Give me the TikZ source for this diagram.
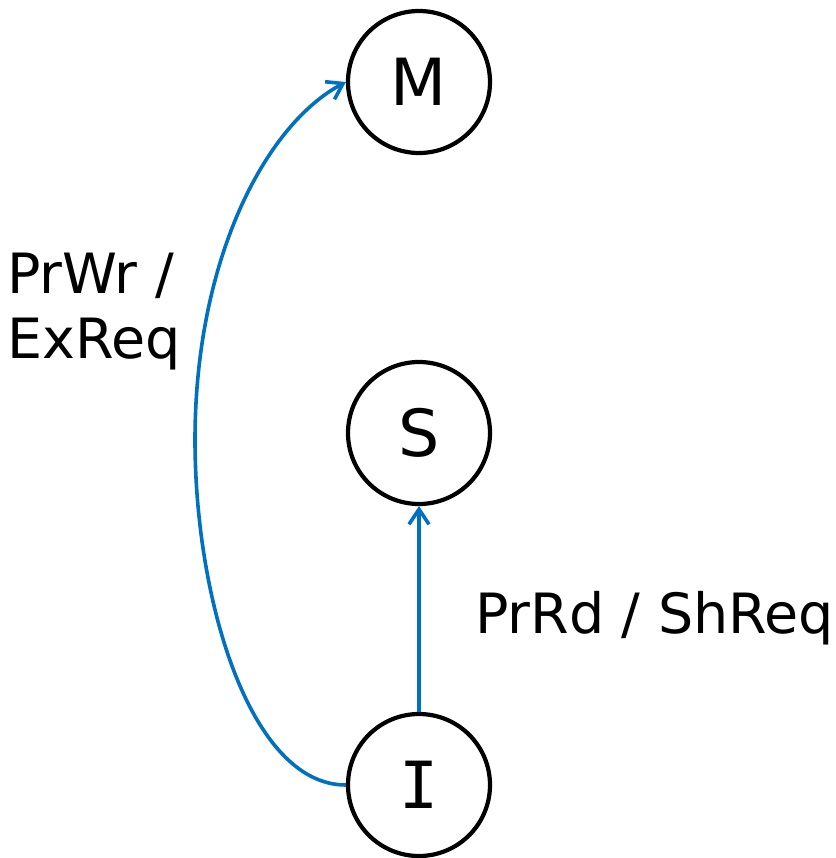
\documentclass[tikz,border=0pt]{standalone}
\usepackage{fontspec}
\setmainfont{DejaVu Sans}
\newfontfamily\serifI{DejaVu Sans Mono}
\usetikzlibrary{arrows.meta}
\definecolor{arrowblue}{RGB}{0,112,192}
\begin{document}
\begin{tikzpicture}[x=1pt,y=-1pt,
  state/.style={circle,draw=black,line width=4.2pt,minimum size=142pt,inner sep=0pt,
    font=\fontsize{65}{78}\selectfont},
  lbl/.style={font=\fontsize{55.5}{65}\selectfont,anchor=base west,inner sep=0pt,align=left},
  trans/.style={draw=arrowblue,line width=3.6pt,-{Straight Barb[length=15pt,width=20pt]}}]
\useasboundingbox (0,0) rectangle (835,858);
\node[state] (M) at (419,82) {M};
\node[state] (S) at (419,433) {S};
\node[state] (I) at (419,785) {\serifI I};
\draw[trans] (I.west) .. controls (250,785) and (195,600) .. (195,440)
  .. controls (195,260) and (265,125) .. (M.west);
\draw[trans] (I.north) -- (S.south);
\node[lbl] (lw) at (7,358) {PrWr /\\ExReq};
\node[lbl] (lr) at (475,633) {PrRd / ShReq};
\end{tikzpicture}
\end{document}
